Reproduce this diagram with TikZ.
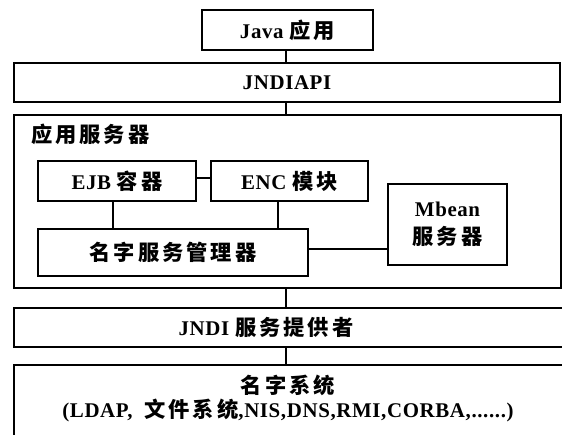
\documentclass[tikz,border=0pt]{standalone}
\usepackage{fontspec}
\setmainfont{Liberation Serif}[Scale=1.1,LetterSpace=3]
\newfontfamily\cjk{Noto Sans CJK SC}[Scale=1.12,LetterSpace=14]
\newcommand{\zh}[1]{{\cjk #1}}
\begin{document}
\begin{tikzpicture}[x=1pt,y=-1pt,
  box/.style={draw, line width=2.2pt, inner sep=0pt, align=center,
    font=\fontsize{19}{30}\selectfont\bfseries},
  link/.style={line width=2.2pt},
  lbl/.style={inner sep=0pt, font=\fontsize{19}{26}\selectfont\bfseries}]
\useasboundingbox (0,0) rectangle (562,435);
\clip (0,0) rectangle (562,435);
% top boxes
\node[box, minimum width=171pt, minimum height=40pt] (java) at (287.5,30) {Java \zh{应用}};
\node[box, minimum width=546pt, minimum height=39pt] (api) at (287,82.5) {JNDIAPI};
% application server
\node[box, minimum width=547pt, minimum height=173pt] (app) at (287.5,201.5) {};
\node[lbl, anchor=west] (applbl) at (31,134) {\zh{应用服务器}};
\node[box, minimum width=158pt, minimum height=40pt] (ejb) at (117,181) {EJB \zh{容器}};
\node[box, minimum width=157pt, minimum height=40pt] (enc) at (289.5,181) {ENC \zh{模块}};
\node[box, minimum width=270pt, minimum height=47pt] (mgr) at (173,252.5) {\zh{名字服务管理器}};
\node[box, minimum width=119pt, minimum height=81pt] (mbean) at (447.5,224.5) {Mbean\\[-2pt]\zh{服务器}};
% provider and naming system
\node[box, minimum width=560pt, minimum height=39pt] (prov) at (294,327.5) {};
\node[lbl] (provlbl) at (266,327.5) {JNDI \zh{服务提供者}};
\node[box, minimum width=560pt, minimum height=100pt] (ns) at (294,415) {};
\node[lbl] (nslbl) at (288,385) {\zh{名字系统}};
\node[lbl] (nslist) at (288,410) {(LDAP,\ \ \zh{文件系统},NIS,DNS,RMI,CORBA,......)};
% connectors
\draw[link] (java.south -| 286,0) -- (api.north -| 286,0);
\draw[link] (api.south -| 286,0) -- (app.north -| 286,0);
\draw[link] (app.south -| 286,0) -- (prov.north -| 286,0);
\draw[link] (prov.south -| 286,0) -- (ns.north -| 286,0);
\draw[link] (ejb.east |- 0,178) -- (enc.west |- 0,178);
\draw[link] (ejb.south -| 113,0) -- (mgr.north -| 113,0);
\draw[link] (enc.south -| 278,0) -- (mgr.north -| 278,0);
\draw[link] (mgr.east |- 0,249) -- (mbean.west |- 0,249);
\end{tikzpicture}
\end{document}
